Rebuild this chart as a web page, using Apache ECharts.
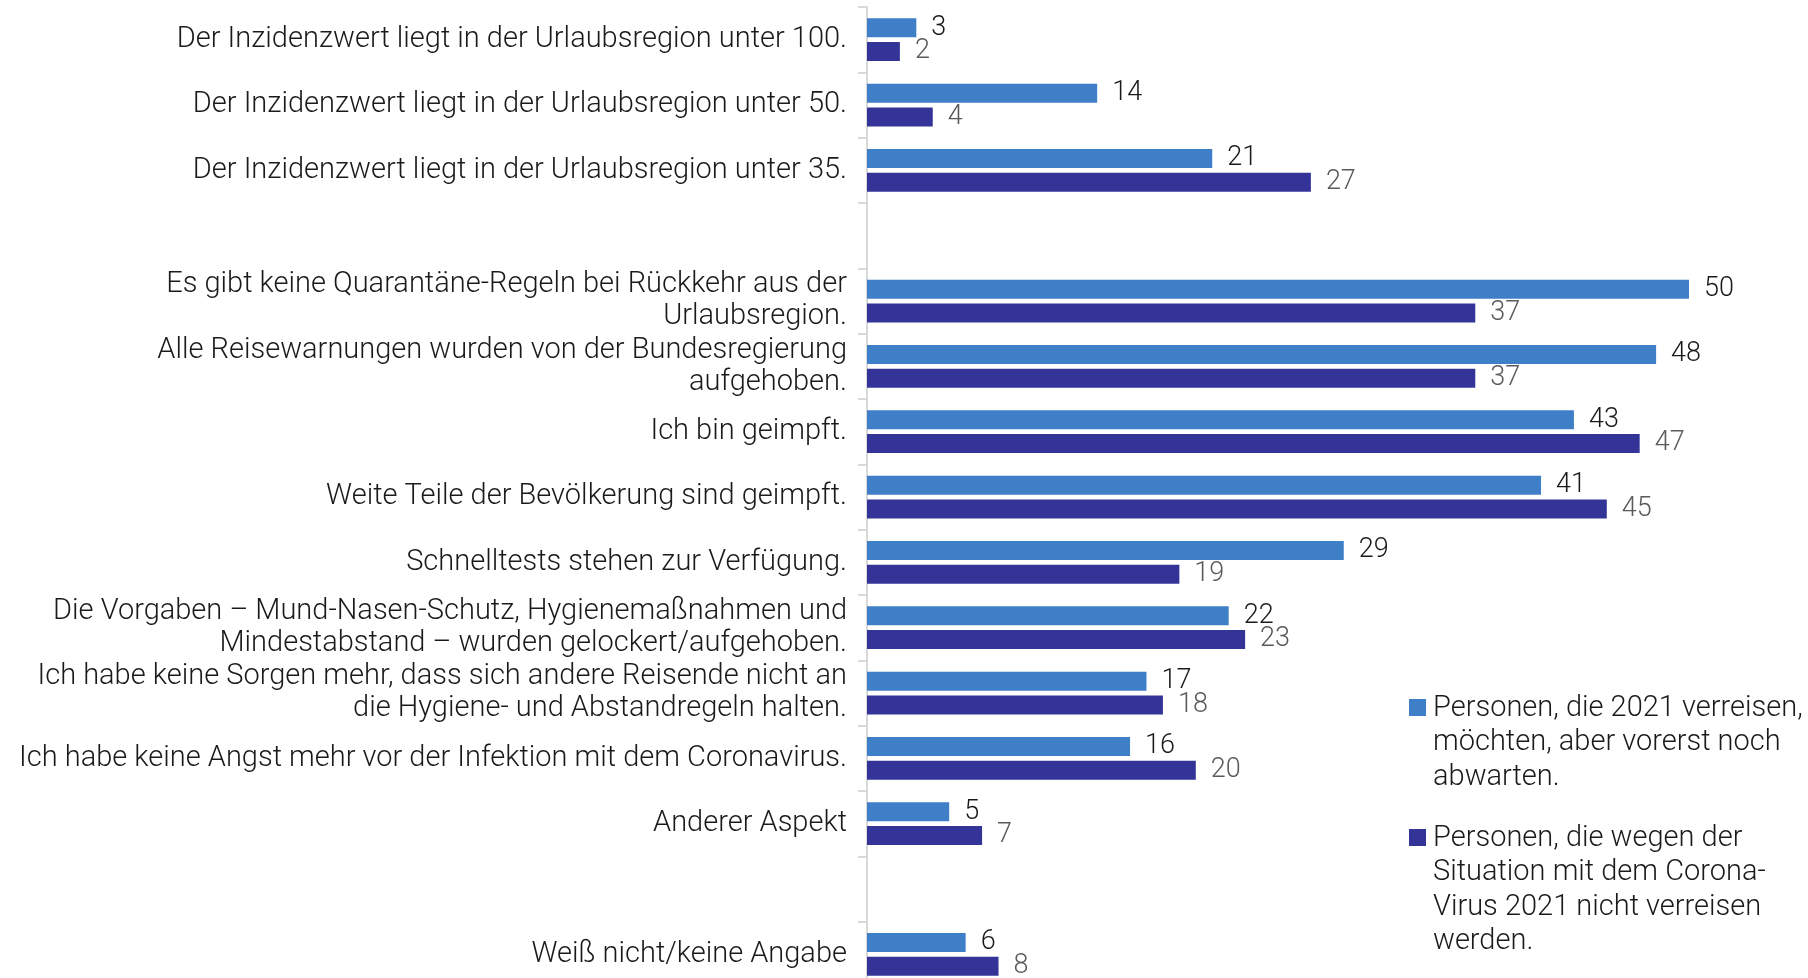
<!DOCTYPE html>
<html>
<head>
<meta charset="utf-8">
<script src="https://cdn.jsdelivr.net/npm/echarts@6/dist/echarts.min.js"></script>
<style>
  html, body { margin: 0; padding: 0; background: #fff; }
  #chart { width: 1808px; height: 978px; }
</style>
</head>
<body>
<div id="chart"></div>
<script>
  // Kategorien (leere Einträge = Abstandszeilen)
  const categories = [
    'Der Inzidenzwert liegt in der Urlaubsregion unter 100.',
    'Der Inzidenzwert liegt in der Urlaubsregion unter 50.',
    'Der Inzidenzwert liegt in der Urlaubsregion unter 35.',
    '',
    'Es gibt keine Quarantäne-Regeln bei Rückkehr aus der\nUrlaubsregion.',
    'Alle Reisewarnungen wurden von der Bundesregierung\naufgehoben.',
    'Ich bin geimpft.',
    'Weite Teile der Bevölkerung sind geimpft.',
    'Schnelltests stehen zur Verfügung.',
    'Die Vorgaben – Mund-Nasen-Schutz, Hygienemaßnahmen und\nMindestabstand – wurden gelockert/aufgehoben.',
    'Ich habe keine Sorgen mehr, dass sich andere Reisende nicht an\ndie Hygiene- und Abstandregeln halten.',
    'Ich habe keine Angst mehr vor der Infektion mit dem Coronavirus.',
    'Anderer Aspekt',
    ' ',
    'Weiß nicht/keine Angabe'
  ]

  const seriesNames = [
    'Personen, die 2021 verreisen,\nmöchten, aber vorerst noch\nabwarten.',
    'Personen, die wegen der\nSituation mit dem Corona-\nVirus 2021 nicht verreisen\nwerden.'
  ]

  const abwarten = [3, 14, 21, null, 50, 48, 43, 41, 29, 22, 17, 16, 5, null, 6]
  const nichtVerreisen = [2, 4, 27, null, 37, 37, 47, 45, 19, 23, 18, 20, 7, null, 8]

  const colors = ['#3f7fc8', '#343498']
  const labelColors = ['#1a1a1a', '#5a5a5a']
  const font = 'Roboto, "Noto Sans", sans-serif'

  const chart = echarts.init(document.getElementById('chart'))

  const makeSeries = (name, data, i) => ({
    name: name,
    type: 'bar',
    data: data,
    barWidth: 19,
    barGap: '25%',
    itemStyle: { color: colors[i] },
    label: {
      show: true,
      position: 'right',
      distance: 15,
      color: labelColors[i],
      fontFamily: font,
      fontWeight: 300,
      fontSize: 27
    }
  })

  // Legende als Grafik, damit das Quadrat an der ersten Zeile steht
  const legendItem = (i, top) => [
    {
      type: 'rect',
      left: 1409,
      top: top + 8,
      shape: { width: 17, height: 17 },
      style: { fill: colors[i] }
    },
    {
      type: 'text',
      left: 1433,
      top: top,
      style: {
        text: seriesNames[i],
        fill: '#1a1a1a',
        font: '300 29px ' + font,
        lineHeight: 34.5
      }
    }
  ]

  const option = {
    animation: false,
    backgroundColor: '#fff',
    // Raster läuft unten etwas über den Bildrand hinaus
    grid: { left: 867, width: 822, top: 7, height: 980, outerBoundsMode: 'none', containLabel: false },
    xAxis: {
      type: 'value',
      min: 0,
      max: 50,
      show: false
    },
    yAxis: {
      type: 'category',
      inverse: true,
      data: categories,
      axisLine: { show: true, lineStyle: { color: '#d9d9d9', width: 2 } },
      axisTick: { show: true, length: 9, lineStyle: { color: '#d9d9d9', width: 2 } },
      axisLabel: {
        margin: 20,
        color: '#1a1a1a',
        fontFamily: font,
        fontWeight: 300,
        fontSize: 29,
        lineHeight: 32
      }
    },
    series: [
      makeSeries(seriesNames[0], abwarten, 0),
      makeSeries(seriesNames[1], nichtVerreisen, 1)
    ],
    graphic: [...legendItem(0, 691), ...legendItem(1, 821)]
  }

  chart.setOption(option)
</script>
</body>
</html>
